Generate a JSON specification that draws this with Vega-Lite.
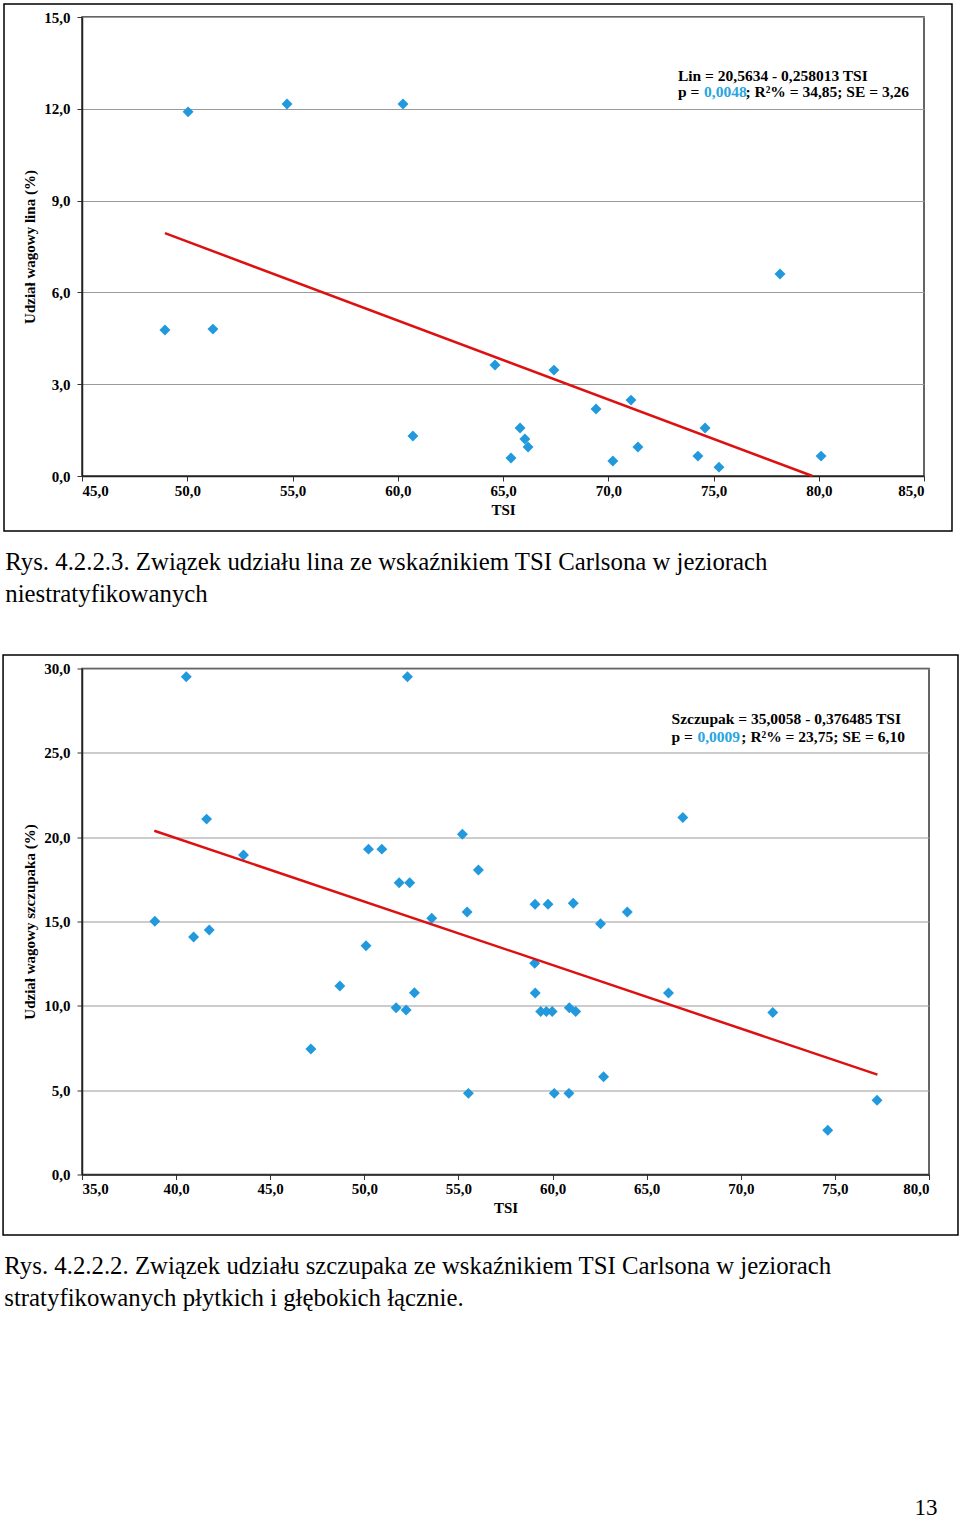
{
  "$schema": "https://vega.github.io/schema/vega-lite/v6.json",
  "background": "white",
  "padding": {"left": 1, "top": 2, "right": 0, "bottom": 0},
  "spacing": 45.5,
  "datasets": {
    "one": [{"k": 1}],
    "lin": [
      {"TSI": 48.94, "v": 4.77}, {"TSI": 50.04, "v": 11.9}, {"TSI": 51.22, "v": 4.8},
      {"TSI": 54.74, "v": 12.16}, {"TSI": 60.25, "v": 12.16}, {"TSI": 60.72, "v": 1.31},
      {"TSI": 64.62, "v": 3.63}, {"TSI": 65.38, "v": 0.59}, {"TSI": 65.81, "v": 1.57},
      {"TSI": 66.04, "v": 1.21}, {"TSI": 66.19, "v": 0.95}, {"TSI": 67.42, "v": 3.46},
      {"TSI": 69.42, "v": 2.19}, {"TSI": 70.22, "v": 0.49}, {"TSI": 71.08, "v": 2.48},
      {"TSI": 71.41, "v": 0.95}, {"TSI": 74.26, "v": 0.65}, {"TSI": 74.6, "v": 1.57},
      {"TSI": 75.26, "v": 0.29}, {"TSI": 78.16, "v": 6.6}, {"TSI": 80.11, "v": 0.65}
    ],
    "lin_trend": [{"TSI": 48.94, "v": 7.936}, {"TSI": 79.7, "v": 0}],
    "szczupak": [
      {"TSI": 40.54, "v": 29.51}, {"TSI": 52.29, "v": 29.51}, {"TSI": 41.62, "v": 21.07},
      {"TSI": 43.58, "v": 18.94}, {"TSI": 50.22, "v": 19.29}, {"TSI": 50.93, "v": 19.29},
      {"TSI": 51.85, "v": 17.3}, {"TSI": 52.41, "v": 17.3}, {"TSI": 38.87, "v": 15.01},
      {"TSI": 40.93, "v": 14.08}, {"TSI": 41.76, "v": 14.49}, {"TSI": 50.09, "v": 13.56},
      {"TSI": 48.7, "v": 11.17}, {"TSI": 53.58, "v": 15.19}, {"TSI": 47.16, "v": 7.44},
      {"TSI": 51.69, "v": 9.89}, {"TSI": 52.22, "v": 9.75}, {"TSI": 52.66, "v": 10.78},
      {"TSI": 55.21, "v": 20.17}, {"TSI": 56.06, "v": 18.05}, {"TSI": 55.46, "v": 15.56},
      {"TSI": 59.07, "v": 16.02}, {"TSI": 59.76, "v": 16.02}, {"TSI": 61.1, "v": 16.08},
      {"TSI": 62.55, "v": 14.87}, {"TSI": 63.97, "v": 15.56}, {"TSI": 59.05, "v": 12.52},
      {"TSI": 59.08, "v": 10.76}, {"TSI": 59.37, "v": 9.67}, {"TSI": 59.67, "v": 9.67},
      {"TSI": 59.98, "v": 9.67}, {"TSI": 60.89, "v": 9.89}, {"TSI": 61.23, "v": 9.67},
      {"TSI": 66.16, "v": 10.76}, {"TSI": 66.92, "v": 21.17}, {"TSI": 62.71, "v": 5.8},
      {"TSI": 55.53, "v": 4.81}, {"TSI": 60.09, "v": 4.81}, {"TSI": 60.87, "v": 4.81},
      {"TSI": 71.7, "v": 9.61}, {"TSI": 74.62, "v": 2.62}, {"TSI": 77.24, "v": 4.4}
    ],
    "szczupak_trend": [{"TSI": 38.84, "v": 20.383}, {"TSI": 77.26, "v": 5.918}]
  },
  "title": {
    "text": "13", "orient": "bottom", "anchor": "end", "frame": "bounds",
    "offset": 186, "dx": -22, "font": "Liberation Serif", "fontSize": 23,
    "fontWeight": "normal", "color": "black"
  },
  "config": {
    "font": "Liberation Serif",
    "view": {"stroke": "#333", "strokeWidth": 1.5},
    "axis": {
      "labelFont": "Liberation Serif", "labelFontWeight": "bold", "labelFontSize": 15,
      "labelColor": "black", "titleFont": "Liberation Serif", "titleFontWeight": "bold",
      "titleFontSize": 15, "titleColor": "black", "tickColor": "#333", "tickSize": 5,
      "domainColor": "#222", "domainWidth": 1.5
    },
    "axisX": {"grid": false, "labelPadding": 2, "titlePadding": 4},
    "axisY": {"grid": true, "gridColor": "#9a9a9a", "gridWidth": 1.2, "labelPadding": 7, "titlePadding": 6}
  },
  "vconcat": [
    {
      "width": 842, "height": 459,
      "title": {
        "text": ["Rys. 4.2.2.3. Związek udziału lina ze wskaźnikiem TSI Carlsona w jeziorach", "niestratyfikowanych"],
        "orient": "bottom", "anchor": "start", "frame": "bounds", "offset": 18, "dx": 2,
        "font": "Liberation Serif", "fontSize": 24.8, "fontWeight": "normal", "lineHeight": 32, "color": "black"
      },
      "layer": [
        {
          "data": {"name": "lin"},
          "mark": {"type": "point", "shape": "diamond", "filled": true, "size": 120, "color": "#2299dd", "opacity": 1},
          "encoding": {
            "x": {"field": "TSI", "type": "quantitative", "title": "TSI",
                  "scale": {"domain": [45, 85], "nice": false, "zero": false},
                  "axis": {"values": [45, 50, 55, 60, 65, 70, 75, 80, 85], "labelExpr": "replace(format(datum.value, '.1f'), '.', ',')"}},
            "y": {"field": "v", "type": "quantitative", "title": "Udział wagowy lina (%)",
                  "scale": {"domain": [0, 15], "nice": false, "zero": false},
                  "axis": {"values": [0, 3, 6, 9, 12, 15], "labelExpr": "replace(format(datum.value, '.1f'), '.', ',')"}}
          }
        },
        {
          "data": {"name": "one"},
          "mark": {"type": "rect", "filled": false, "stroke": "black", "strokeWidth": 1.5, "clip": false},
          "encoding": {
            "x": {"datum": 41.295, "type": "quantitative"},
            "x2": {"datum": 86.33},
            "y": {"datum": -1.797, "type": "quantitative"},
            "y2": {"datum": 15.425}
          }
        },
        {
          "data": {"name": "lin_trend"},
          "mark": {"type": "line", "color": "#dd1111", "strokeWidth": 2.5},
          "encoding": {
            "x": {"field": "TSI", "type": "quantitative"},
            "y": {"field": "v", "type": "quantitative"}
          }
        },
        {
          "data": {"name": "one"},
          "mark": {"type": "text", "text": "Lin = 20,5634 - 0,258013 TSI", "align": "left", "baseline": "middle", "font": "Liberation Serif", "fontWeight": "bold", "fontSize": 15.5, "color": "black"},
          "encoding": {"x": {"datum": 73.31, "type": "quantitative"}, "y": {"datum": 13.07, "type": "quantitative"}}
        },
        {
          "data": {"name": "one"},
          "mark": {"type": "text", "text": "p = ", "align": "left", "baseline": "middle", "font": "Liberation Serif", "fontWeight": "bold", "fontSize": 15.5, "color": "black"},
          "encoding": {"x": {"datum": 73.31, "type": "quantitative"}, "y": {"datum": 12.55, "type": "quantitative"}}
        },
        {
          "data": {"name": "one"},
          "mark": {"type": "text", "text": "0,0048", "align": "left", "baseline": "middle", "font": "Liberation Serif", "fontWeight": "bold", "fontSize": 15.5, "color": "#29a6e0"},
          "encoding": {"x": {"datum": 74.55, "type": "quantitative"}, "y": {"datum": 12.55, "type": "quantitative"}}
        },
        {
          "data": {"name": "one"},
          "mark": {"type": "text", "text": "; R²% = 34,85; SE = 3,26", "align": "left", "baseline": "middle", "font": "Liberation Serif", "fontWeight": "bold", "fontSize": 15.5, "color": "black"},
          "encoding": {"x": {"datum": 76.52, "type": "quantitative"}, "y": {"datum": 12.55, "type": "quantitative"}}
        }
      ]
    },
    {
      "width": 847, "height": 506,
      "title": {
        "text": ["Rys. 4.2.2.2. Związek udziału szczupaka ze wskaźnikiem TSI Carlsona w jeziorach", "stratyfikowanych płytkich i głębokich łącznie."],
        "orient": "bottom", "anchor": "start", "frame": "bounds", "offset": 18, "dx": 2,
        "font": "Liberation Serif", "fontSize": 24.8, "fontWeight": "normal", "lineHeight": 32, "color": "black"
      },
      "layer": [
        {
          "data": {"name": "szczupak"},
          "mark": {"type": "point", "shape": "diamond", "filled": true, "size": 120, "color": "#2299dd", "opacity": 1},
          "encoding": {
            "x": {"field": "TSI", "type": "quantitative", "title": "TSI",
                  "scale": {"domain": [35, 80], "nice": false, "zero": false},
                  "axis": {"values": [35, 40, 45, 50, 55, 60, 65, 70, 75, 80], "labelExpr": "replace(format(datum.value, '.1f'), '.', ',')"}},
            "y": {"field": "v", "type": "quantitative", "title": "Udział wagowy szczupaka (%)",
                  "scale": {"domain": [0, 30], "nice": false, "zero": false},
                  "axis": {"values": [0, 5, 10, 15, 20, 25, 30], "labelExpr": "replace(format(datum.value, '.1f'), '.', ',')"}}
          }
        },
        {
          "data": {"name": "one"},
          "mark": {"type": "rect", "filled": false, "stroke": "black", "strokeWidth": 1.5, "clip": false},
          "encoding": {
            "x": {"datum": 30.806, "type": "quantitative"},
            "x2": {"datum": 81.54},
            "y": {"datum": -3.586, "type": "quantitative"},
            "y2": {"datum": 30.8}
          }
        },
        {
          "data": {"name": "szczupak_trend"},
          "mark": {"type": "line", "color": "#dd1111", "strokeWidth": 2.5},
          "encoding": {
            "x": {"field": "TSI", "type": "quantitative"},
            "y": {"field": "v", "type": "quantitative"}
          }
        },
        {
          "data": {"name": "one"},
          "mark": {"type": "text", "text": "Szczupak = 35,0058 - 0,376485 TSI", "align": "left", "baseline": "middle", "font": "Liberation Serif", "fontWeight": "bold", "fontSize": 15.5, "color": "black"},
          "encoding": {"x": {"datum": 66.32, "type": "quantitative"}, "y": {"datum": 27.0, "type": "quantitative"}}
        },
        {
          "data": {"name": "one"},
          "mark": {"type": "text", "text": "p = ", "align": "left", "baseline": "middle", "font": "Liberation Serif", "fontWeight": "bold", "fontSize": 15.5, "color": "black"},
          "encoding": {"x": {"datum": 66.32, "type": "quantitative"}, "y": {"datum": 25.93, "type": "quantitative"}}
        },
        {
          "data": {"name": "one"},
          "mark": {"type": "text", "text": "0,0009", "align": "left", "baseline": "middle", "font": "Liberation Serif", "fontWeight": "bold", "fontSize": 15.5, "color": "#29a6e0"},
          "encoding": {"x": {"datum": 67.7, "type": "quantitative"}, "y": {"datum": 25.93, "type": "quantitative"}}
        },
        {
          "data": {"name": "one"},
          "mark": {"type": "text", "text": "; R²% = 23,75; SE = 6,10", "align": "left", "baseline": "middle", "font": "Liberation Serif", "fontWeight": "bold", "fontSize": 15.5, "color": "black"},
          "encoding": {"x": {"datum": 70.03, "type": "quantitative"}, "y": {"datum": 25.93, "type": "quantitative"}}
        }
      ]
    }
  ]
}
